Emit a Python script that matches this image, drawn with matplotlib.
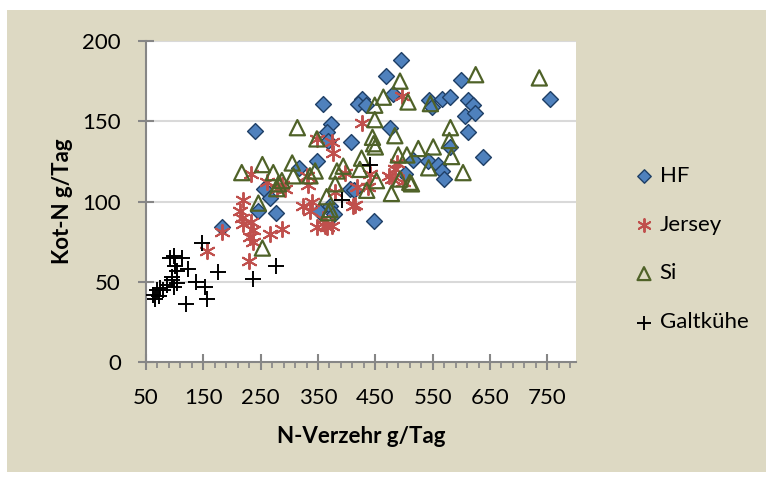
import matplotlib
matplotlib.use("Agg")
import matplotlib.pyplot as plt
from matplotlib.patches import Rectangle
from matplotlib.ticker import MultipleLocator, FixedLocator

plt.rcParams["font.family"] = ["Lato", "DejaVu Sans"]

# HF (Holstein-Friesian)
hf_x = [495, 469, 599, 358, 427, 419, 433, 481, 544, 548, 567, 581, 612, 621, 606,
        623, 612, 755, 240, 372, 365, 475, 407, 638, 580, 515, 541, 560, 566, 569,
        349, 316, 502, 255, 266, 276, 246, 183, 352, 371, 378, 406, 412, 447, 368]
hf_y = [188, 178, 176, 161, 164, 161, 160, 167, 163, 159, 164, 165, 163, 160, 153,
        155, 143, 164, 144, 148, 143, 146, 137, 128, 134, 126, 125, 123, 119, 114,
        125, 121, 117, 108, 102, 93, 94, 84, 94, 97, 92, 108, 107, 88, 138]

# Jersey
je_x = [496, 426, 348, 374, 377, 397, 418, 438, 484, 479, 499, 411, 359, 374, 365,
        380, 234, 261, 220, 214, 217, 234, 237, 231, 237, 266, 287, 182, 156, 229,
        324, 336, 348, 362, 287, 292, 330, 219, 441, 473, 340, 278, 415, 487, 333]
je_y = [166, 149, 139, 137, 130, 118, 109, 109, 120, 114, 112, 97, 89, 85, 84,
        106, 117, 112, 101, 94, 90, 87, 82, 78, 75, 80, 83, 81, 69, 63,
        97, 94, 84, 85, 110, 108, 116, 86, 117, 116, 100, 108, 98, 124, 110]

# Si
si_x = [625, 736, 493, 464, 507, 546, 449, 449, 314, 581, 484, 579, 348, 445, 447,
        450, 551, 525, 490, 505, 583, 426, 394, 423, 543, 603, 217, 253, 272, 305,
        307, 336, 345, 383, 380, 452, 493, 510, 513, 281, 287, 278, 365, 435, 478,
        246, 371, 368, 253]
si_y = [179, 177, 175, 165, 162, 161, 160, 151, 146, 146, 141, 138, 139, 140, 136,
        134, 134, 133, 129, 129, 128, 127, 122, 120, 121, 118, 118, 123, 118, 124,
        116, 116, 119, 119, 111, 113, 114, 112, 111, 111, 113, 108, 103, 107, 105,
        99, 95, 93, 71]

# Galtkuehe (dry cows)
ga_x = [147, 98, 92, 112, 101, 104, 124, 95, 95, 104, 98, 86, 74, 69, 80,
        63, 66, 72, 138, 153, 156, 120, 176, 236, 277, 440, 391]
ga_y = [74, 66, 65, 65, 60, 57, 58, 53, 51, 49, 47, 48, 46, 45, 45,
        42, 39, 41, 50, 47, 39, 36, 56, 52, 60, 123, 101]

x_ticks = [50, 150, 250, 350, 450, 550, 650, 750]
y_ticks = [0, 50, 100, 150, 200]

fig = plt.figure(figsize=(7.74, 4.8), dpi=100)
fig.patch.set_facecolor("white")
# beige chart area
fig.patches.append(Rectangle((7 / 774, 1 - 472 / 480), 759 / 774, 462 / 480,
                             transform=fig.transFigure, facecolor="#DDD9C3",
                             edgecolor="none", zorder=-10))

ax = fig.add_axes([146 / 774, 1 - 362 / 480, 430 / 774, 321 / 480])
ax.set_facecolor("white")

ax.scatter(hf_x, hf_y, marker="D", s=65, facecolor="#4F81BD",
           edgecolor="#1F3F66", linewidth=1.0, label="HF", zorder=3)
ax.scatter(je_x, je_y, marker=(6, 2, 0), s=120, color="#C0504D",
           linewidth=1.4, label="Jersey", zorder=3)
ax.scatter(si_x, si_y, marker="^", s=120, facecolor="none",
           edgecolor="#4F6228", linewidth=1.6, label="Si", zorder=3)
ax.scatter(ga_x, ga_y, marker="+", s=130, color="black",
           linewidth=1.4, label="Galtkühe", zorder=4)

ax.set_xlim(50, 800)
ax.set_ylim(0, 200)
ax.xaxis.set_major_locator(FixedLocator(x_ticks))
ax.xaxis.set_minor_locator(MultipleLocator(20, offset=10))
ax.yaxis.set_major_locator(FixedLocator(y_ticks))

for y in y_ticks[1:]:
    ax.axhline(y, color="#D9D9D9", linewidth=1.5, zorder=1)

for s in ["top", "right"]:
    ax.spines[s].set_visible(False)
for s in ["left", "bottom"]:
    ax.spines[s].set_color("#868686")
    ax.spines[s].set_linewidth(1.5)
    ax.spines[s].set_zorder(2)

ax.tick_params(axis="both", which="major", direction="inout", length=12,
               width=1.5, color="#868686", labelsize=16)
ax.tick_params(axis="x", which="major", pad=13)
ax.tick_params(axis="y", which="major", pad=12)
ax.tick_params(axis="x", which="minor", direction="out", length=4,
               width=1.2, color="#868686")

ax.set_xlabel("N-Verzehr g/Tag", fontsize=16, fontweight="bold", labelpad=13)
ax.set_ylabel("Kot-N g/Tag", fontsize=16, fontweight="bold", labelpad=7)

ax.legend(loc="center left", bbox_to_anchor=(624 / 774, 1 - 249 / 480),
          bbox_transform=fig.transFigure, frameon=False, fontsize=16,
          labelspacing=1.3, handletextpad=0.3, handlelength=0.8,
          borderpad=0, markerscale=0.85)

fig.savefig("out.png", dpi=100)
